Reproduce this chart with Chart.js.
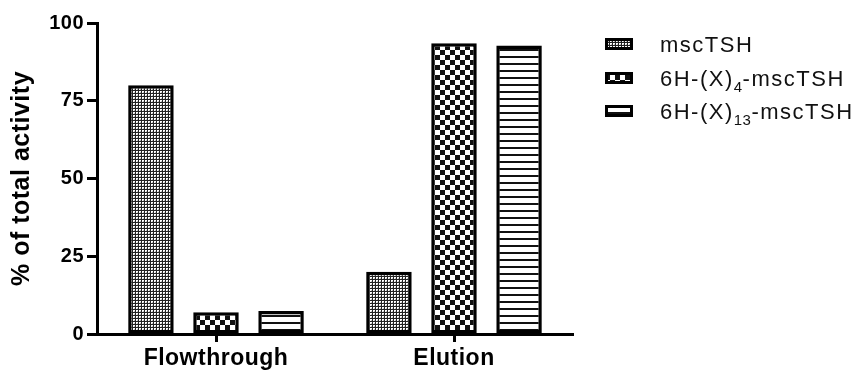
<!DOCTYPE html>
<html><head><meta charset="utf-8">
<script src="https://cdn.jsdelivr.net/npm/chart.js@4"></script>
<style>html,body{margin:0;padding:0;background:#fff;overflow:hidden}#wrap{width:865px;height:371px}</style>
</head><body><div id="wrap"><canvas id="c" width="865" height="371"></canvas></div>
<script>
const categories = ['Flowthrough', 'Elution'];
const seriesNames = ['mscTSH', '6H-(X)4-mscTSH', '6H-(X)13-mscTSH'];
const valuesMscTSH = [80, 20];
const valuesX4 = [7, 93.5];
const valuesX13 = [7.4, 92.8];
const yTicks = [0, 25, 50, 75, 100];
const legendParts = [['mscTSH', '', ''], ['6H-(X)', '4', '-mscTSH'], ['6H-(X)', '13', '-mscTSH']];

const FONT = '"Liberation Sans", Arial, Helvetica, sans-serif';
const canvas = document.getElementById('c');
function makePattern(w, h, draw) {
  const c = document.createElement('canvas'); c.width = w; c.height = h;
  const g = c.getContext('2d'); g.fillStyle = '#fff'; g.fillRect(0, 0, w, h);
  g.fillStyle = '#111'; draw(g);
  return canvas.getContext('2d').createPattern(c, 'repeat');
}
const pDots = makePattern(3, 3, g => { g.fillStyle = '#222'; g.fillRect(0, 0, 3, 1); g.fillRect(0, 0, 1, 3); g.fillStyle = '#bbb'; g.fillRect(2, 2, 1, 1); });
const pChecker = makePattern(10, 10, g => { g.fillRect(0, 0, 5, 5); g.fillRect(5, 5, 5, 5); });
const pLines = makePattern(4, 7, g => { g.fillRect(0, 0, 4, 2); });
const patterns = [pDots, pChecker, pLines];

const spacingPlugin = {
  id: 'spacing',
  beforeLayout(chart) { chart.ctx.letterSpacing = '0.5px'; },
  beforeDraw(chart) { chart.ctx.letterSpacing = '0.5px'; }
};

const legendPlugin = {
  id: 'customLegend',
  afterDraw(chart) {
    const ctx = chart.ctx;
    ctx.save();
    const x0 = 605, sw = 28, sh = 12, tx = 660;
    const centers = [44, 78, 111];
    legendParts.forEach((parts, i) => {
      const cy = centers[i];
      ctx.fillStyle = patterns[i];
      ctx.fillRect(x0, cy - sh / 2, sw, sh);
      ctx.lineWidth = 3; ctx.strokeStyle = '#000';
      ctx.strokeRect(x0 + 1.5, cy - sh / 2 + 1.5, sw - 3, sh - 3);
      ctx.fillStyle = '#111';
      ctx.textBaseline = 'alphabetic'; ctx.textAlign = 'left';
      ctx.letterSpacing = '1.5px';
      const base = cy + 8;
      let x = tx;
      ctx.font = '22px ' + FONT;
      ctx.fillText(parts[0], x, base); x += ctx.measureText(parts[0]).width;
      if (parts[1]) {
        ctx.font = '15px ' + FONT; ctx.letterSpacing = '0.5px';
        ctx.fillText(parts[1], x, base + 6); x += ctx.measureText(parts[1]).width;
        ctx.font = '22px ' + FONT; ctx.letterSpacing = '1.5px';
        ctx.fillText(parts[2], x, base);
      }
    });
    ctx.restore();
  }
};

new Chart(canvas, {
  type: 'bar',
  data: {
    labels: categories,
    datasets: [
      { label: seriesNames[0], data: valuesMscTSH, backgroundColor: pDots },
      { label: seriesNames[1], data: valuesX4, backgroundColor: pChecker },
      { label: seriesNames[2], data: valuesX13, backgroundColor: pLines }
    ].map(d => Object.assign(d, { borderColor: '#000', borderWidth: 3.5, borderSkipped: false, barPercentage: 0.7, categoryPercentage: 0.82 }))
  },
  options: {
    responsive: false, animation: false,
    layout: { padding: { left: 0, top: 23, right: 292, bottom: 0 } },
    plugins: { legend: { display: false }, tooltip: { enabled: false } },
    scales: {
      x: {
        grid: { display: true, offset: false, drawOnChartArea: false, drawTicks: true, tickLength: 8, tickWidth: 3, tickColor: '#000' },
        border: { display: true, width: 3, color: '#000' },
        ticks: { color: '#000', font: { family: FONT, size: 23, weight: 'bold' }, padding: 3, maxRotation: 0 },
        afterFit(s) { s.height = 37; }
      },
      y: {
        min: 0, max: 100,
        afterBuildTicks(s) { s.ticks = yTicks.map(v => ({ value: v })); },
        grid: { display: true, drawOnChartArea: false, drawTicks: true, tickLength: 10, tickWidth: 3, tickColor: '#000' },
        border: { display: true, width: 3, color: '#000' },
        ticks: { color: '#000', font: { family: FONT, size: 20, weight: 'bold' }, padding: 3 },
        title: { display: true, text: '% of total activity', color: '#000', font: { family: FONT, size: 25, weight: 'bold' }, padding: { top: 7, bottom: 0 } },
        afterFit(s) { s.width = 97; }
      }
    }
  },
  plugins: [spacingPlugin, legendPlugin]
});
</script></body></html>
